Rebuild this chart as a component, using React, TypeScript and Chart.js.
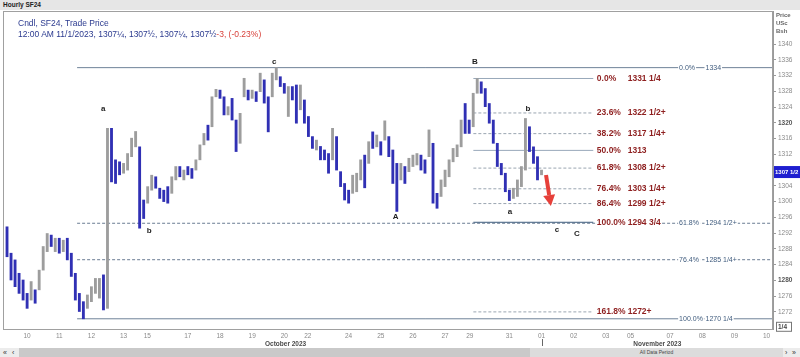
import React, { useEffect, useRef } from "react";
import { Chart, registerables } from "chart.js";

Chart.register(...registerables);

// ---------------- data ----------------
// hourly-ish bars (3h buckets), x measured in trading days from Oct 10
const barStartDay = -0.625;
const barStepDay = 0.125;

const barHighs = [
  1293.6, 1286.9, 1285.2, 1281.8, 1280.1, 1276.7, 1279.7, 1277.6, 1282.6, 1288.6,
  1291.9, 1291.5, 1290.7, 1290.7, 1290.2, 1290.7, 1286.9, 1281.8, 1276.7, 1274.6,
  1276.3, 1278.4, 1280.5, 1280.5, 1281.4, 1318.6, 1318.6, 1310.6, 1310.1, 1309.7,
  1312.2, 1316.1, 1317.8, 1313.9, 1300.4, 1303.8, 1306.7, 1306.3, 1303.4, 1302.9,
  1303.8, 1306.3, 1308.9, 1308.9, 1308.0, 1308.9, 1308.4, 1310.6, 1314.4, 1317.3,
  1319.4, 1326.6, 1328.5, 1328.3, 1326.6, 1324.1, 1326.2, 1320.7, 1322.4, 1331.3,
  1328.3, 1328.3, 1327.9, 1332.6, 1330.9, 1326.6, 1332.6, 1334.0, 1331.7, 1330.0,
  1329.2, 1329.2, 1329.6, 1329.6, 1325.8, 1321.6, 1316.5, 1315.6, 1314.0, 1313.1,
  1312.2, 1318.6, 1316.5, 1307.6, 1304.6, 1302.9, 1306.7, 1307.2, 1310.6, 1311.8,
  1315.2, 1317.7, 1316.9, 1315.2, 1320.5, 1316.5, 1313.1, 1309.7, 1309.7, 1308.9,
  1311.0, 1311.8, 1312.2, 1311.8, 1310.6, 1318.2, 1314.8, 1302.1, 1305.5, 1308.0,
  1310.6, 1313.5, 1314.4, 1320.7, 1324.9, 1320.7, 1327.5, 1331.25, 1330.4, 1328.7,
  1324.9, 1320.7, 1314.8, 1309.7, 1307.2, 1302.9, 1303.4, 1305.5, 1308.9, 1321.1,
  1319.0, 1313.9, 1311.4, 1308.0,
];

const barLows = [
  1286.0, 1280.1, 1278.4, 1276.7, 1275.0, 1272.9, 1275.0, 1274.2, 1277.6, 1282.6,
  1287.3, 1288.6, 1287.3, 1286.9, 1287.3, 1285.2, 1281.0, 1275.0, 1272.1, 1270.25,
  1272.9, 1274.6, 1276.7, 1275.5, 1272.5, 1272.9, 1305.0, 1304.6, 1306.8, 1307.2,
  1308.0, 1311.4, 1313.9, 1293.25, 1295.7, 1299.6, 1302.9, 1303.4, 1300.8, 1300.0,
  1299.6, 1302.1, 1305.5, 1306.3, 1305.5, 1306.8, 1305.9, 1308.0, 1310.6, 1314.4,
  1315.6, 1319.0, 1326.6, 1326.2, 1322.0, 1322.0, 1320.7, 1312.7, 1314.8, 1326.6,
  1325.8, 1326.2, 1325.4, 1327.9, 1325.0, 1317.7, 1326.6, 1330.9, 1329.2, 1327.5,
  1321.6, 1325.8, 1319.9, 1323.3, 1319.9, 1316.5, 1313.5, 1313.1, 1310.6, 1310.6,
  1307.2, 1310.6, 1308.0, 1303.8, 1300.4, 1299.6, 1302.1, 1302.5, 1305.5, 1303.5,
  1309.7, 1313.5, 1313.9, 1311.8, 1315.6, 1311.4, 1304.6, 1297.5, 1305.5, 1304.6,
  1307.6, 1308.9, 1309.3, 1308.0, 1307.2, 1311.4, 1299.6, 1298.3, 1301.3, 1303.8,
  1306.3, 1310.1, 1311.4, 1313.9, 1317.3, 1317.3, 1319.0, 1327.5, 1327.5, 1324.1,
  1319.9, 1314.8, 1308.9, 1306.8, 1302.5, 1300.25, 1300.8, 1301.3, 1303.8, 1308.0,
  1312.7, 1309.7, 1305.5, 1306.8,
];

// u = up bar, d = down bar
const barDirections =
  "dddddduduu" + "udududdddd" + "uuuududddu" + "uuudduuddd" + "duududduuu" +
  "duuddudduu" + "dududduudd" + "uddudddudd" + "dudddduuud" + "udududddud" +
  "uuuddudduu" + "uuuudduudd" + "dddddduuuu" + "dddu";

const yTickValues = [1272, 1276, 1280, 1284, 1288, 1292, 1296, 1300, 1304, 1308, 1312, 1316, 1320, 1324, 1328, 1332, 1336, 1340];
const xTickDays = [0, 1, 2, 3, 3.74, 5, 6, 7, 8, 8.73, 10, 11, 12, 13, 13.77, 15, 16, 17, 18, 18.77, 20, 21, 22, 23];
const xTickLabels = ["10", "11", "12", "13", "15", "17", "18", "19", "20", "22", "24", "25", "26", "27", "29", "31", "01", "02", "03", "05", "07", "08", "09", "10"];
const monthLabels = ["October 2023", "November 2023"];
const monthLabelDays = [8.04, 19.6];

// big retracement (low 1270 1/4 -> high 1334)
const longFibStartDay = 1.555;
const longFibEndDay = 23.2;
const longFibLevels = [1334, 1294.5, 1285.25, 1270.25];
const longFibPcts = ["0.0%", "61.8%", "76.4%", "100.0%"];
const longFibTexts = ["1334", "1294 1/2+", "1285 1/4+", "1270 1/4"];
const longFibPctDay = 20.28;
const longFibTextDay = 21.1;

// small retracement (B 1331 1/4 -> A 1294 3/4)
const shortFibStartDay = 13.88;
const shortFibEndDay = 17.61;
const shortFibLevels = [1331.25, 1322.5, 1317.25, 1313, 1308.5, 1303.25, 1299.5, 1294.75, 1272];
const shortFibPcts = ["0.0%", "23.6%", "38.2%", "50.0%", "61.8%", "76.4%", "86.4%", "100.0%", "161.8%"];
const shortFibTexts = ["1331 1/4", "1322 1/2+", "1317 1/4+", "1313", "1308 1/2+", "1303 1/4+", "1299 1/2+", "1294 3/4", "1272+"];
const shortFibPctDay = 17.72;
const shortFibTextDay = 18.68;

const waveLabels = ["a", "b", "c", "A", "B", "a", "b", "c", "C"];
const waveDays = [2.37, 3.8, 7.69, 11.46, 13.93, 15.02, 15.58, 16.48, 17.1];
const waveValues = [1323.5, 1292.5, 1335.4, 1296.1, 1335.4, 1297.4, 1323.5, 1292.8, 1291.8];

const arrowStartDay = 16.14;
const arrowStartValue = 1306.75;
const arrowEndDay = 16.29;
const arrowEndValue = 1298.9;

const lastPrice = 1307.5;
const lastPriceText = "1307 1/2";
const lastBarDay = 16;

// ---------------- styles ----------------
const BLUE = "#3030b4";
const GRAY = "#9d9d9d";
const FONT = '"Liberation Sans", Arial, sans-serif';

const annotationPlugin = {
  id: "fibAnnotations",
  beforeDraw(chart: any) {
    const { ctx } = chart;
    ctx.save();
    ctx.fillStyle = "#ffffff";
    ctx.fillRect(0, 0, chart.width, chart.height);
    ctx.restore();
  },
  afterDatasetsDraw(chart: any) {
    const { ctx, chartArea: a } = chart;
    const xs = chart.scales.x;
    const ys = chart.scales.y;

    const tag = (text: string, x: number, y: number, color: string, font: string, bg: boolean, align: CanvasTextAlign = "left") => {
      ctx.font = font;
      const w = ctx.measureText(text).width;
      const left = align === "center" ? x - w / 2 : x;
      if (bg) {
        ctx.fillStyle = "#ffffff";
        ctx.fillRect(left - 1, y - 5, w + 2, 10);
      }
      ctx.fillStyle = color;
      ctx.textAlign = "left";
      ctx.textBaseline = "middle";
      ctx.fillText(text, left, y);
    };

    ctx.save();
    // frame
    ctx.strokeStyle = "#a0a0a0";
    ctx.lineWidth = 1;
    ctx.strokeRect(a.left + 0.5, a.top + 0.5, a.right - a.left - 1, a.bottom - a.top);

    // long fib labels
    longFibLevels.forEach((lvl, i) => {
      const py = ys.getPixelForValue(lvl);
      tag(longFibPcts[i], xs.getPixelForValue(longFibPctDay), py, "#3f5b7d", `7px ${FONT}`, true);
      tag(longFibTexts[i], xs.getPixelForValue(longFibTextDay), py, "#3f5b7d", `7px ${FONT}`, true);
    });

    // short fib labels
    shortFibLevels.forEach((lvl, i) => {
      const py = ys.getPixelForValue(lvl);
      tag(shortFibPcts[i], xs.getPixelForValue(shortFibPctDay), py, "#8e1f1f", `bold 8.5px ${FONT}`, true);
      tag(shortFibTexts[i], xs.getPixelForValue(shortFibTextDay), py, "#8e1f1f", `bold 8.5px ${FONT}`, true);
    });

    // wave labels
    waveLabels.forEach((t, i) => {
      tag(t, xs.getPixelForValue(waveDays[i]), ys.getPixelForValue(waveValues[i]), "#1e1e1e", `bold 8px ${FONT}`, false, "center");
    });

    // red arrow
    const x1 = xs.getPixelForValue(arrowStartDay);
    const y1 = ys.getPixelForValue(arrowStartValue);
    const x2 = xs.getPixelForValue(arrowEndDay);
    const y2 = ys.getPixelForValue(arrowEndValue);
    const ang = Math.atan2(y2 - y1, x2 - x1);
    const headLen = 11;
    const headW = 6;
    const bx = x2 - headLen * Math.cos(ang);
    const by = y2 - headLen * Math.sin(ang);
    ctx.strokeStyle = "#e6403a";
    ctx.fillStyle = "#e6403a";
    ctx.lineWidth = 4;
    ctx.beginPath();
    ctx.moveTo(x1, y1);
    ctx.lineTo(bx, by);
    ctx.stroke();
    ctx.beginPath();
    ctx.moveTo(x2, y2);
    ctx.lineTo(bx + headW * Math.sin(ang), by - headW * Math.cos(ang));
    ctx.lineTo(bx - headW * Math.sin(ang), by + headW * Math.cos(ang));
    ctx.closePath();
    ctx.fill();

    // month labels
    monthLabels.forEach((m, i) => {
      tag(m, xs.getPixelForValue(monthLabelDays[i]), a.bottom + 15, "#4a4a4a", `bold 6.5px ${FONT}`, false, "center");
    });

    // current bar marker under the axis
    const mx = Math.round(xs.getPixelForValue(lastBarDay)) + 0.5;
    ctx.strokeStyle = "#666";
    ctx.lineWidth = 1;
    ctx.beginPath();
    ctx.moveTo(mx, a.bottom + 10);
    ctx.lineTo(mx, a.bottom + 17);
    ctx.stroke();

    // last price box on the axis
    const lp = ys.getPixelForValue(lastPrice);
    ctx.fillStyle = "#1f1fd0";
    ctx.fillRect(a.right + 1, lp - 6, chart.width - a.right - 1, 12);
    tag(lastPriceText, a.right + 2, lp, "#ffffff", `bold 6px ${FONT}`, false);

    // 1270 1/4 box on the axis
    const bp = ys.getPixelForValue(longFibLevels[3]) + 8;
    ctx.fillStyle = "#ffffff";
    ctx.fillRect(a.right + 3, bp - 4.5, 15, 9);
    ctx.strokeStyle = "#777";
    ctx.strokeRect(a.right + 3.5, bp - 4.5, 15, 9);
    tag("1/4", a.right + 5, bp, "#444", `bold 6.5px ${FONT}`, false);
    ctx.restore();
  },
};

export default function App() {
  const canvasRef = useRef<HTMLCanvasElement | null>(null);

  useEffect(() => {
    const canvas = canvasRef.current;
    if (!canvas) return;
    Chart.defaults.font.family = FONT;

    const barData = barLows.map((lo, i) => ({ x: barStartDay + i * barStepDay, y: [lo, barHighs[i]] }));
    const barColors = barDirections.split("").map((d) => (d === "d" ? BLUE : GRAY));

    const lineSets: any[] = [];
    longFibLevels.forEach((lvl, i) => {
      const solid = longFibPcts[i] === "0.0%" || longFibPcts[i] === "100.0%";
      lineSets.push({
        type: "line",
        data: [{ x: longFibStartDay, y: lvl }, { x: longFibEndDay, y: lvl }],
        borderColor: solid ? "#6f8298" : "#6a7c93",
        borderWidth: 1,
        borderDash: solid ? [] : [3, 2],
        pointRadius: 0,
        order: 3,
      });
    });
    shortFibLevels.forEach((lvl, i) => {
      const p = shortFibPcts[i];
      const solid = p === "0.0%" || p === "50.0%" || p === "100.0%";
      lineSets.push({
        type: "line",
        data: [{ x: shortFibStartDay, y: lvl }, { x: shortFibEndDay, y: lvl }],
        borderColor: p === "100.0%" ? "#3d5b7c" : solid ? "#98a8ba" : "#9aa5b1",
        borderWidth: 1,
        borderDash: solid ? [] : [3, 2],
        pointRadius: 0,
        order: 2,
      });
    });

    const chart = new Chart(canvas, {
      type: "bar",
      data: {
        datasets: [
          {
            type: "bar",
            data: barData as any,
            backgroundColor: barColors,
            borderWidth: 0,
            barThickness: 2.2,
            order: 0,
          } as any,
          ...lineSets,
        ],
      },
      options: {
        animation: false,
        responsive: false,
        devicePixelRatio: 1,
        layout: { padding: { top: 11, left: 3, right: 0, bottom: 0 } },
        plugins: { legend: { display: false }, tooltip: { enabled: false } },
        scales: {
          x: {
            type: "linear",
            min: -0.75,
            max: 23.2,
            offset: false,
            grid: { display: false, drawTicks: false, offset: false },
            border: { display: false },
            afterBuildTicks: (axis: any) => {
              axis.ticks = xTickDays.map((v) => ({ value: v }));
            },
            afterFit: (axis: any) => {
              axis.height = 28;
            },
            ticks: {
              autoSkip: false,
              maxRotation: 0,
              padding: 3,
              color: "#8a8a8a",
              font: { size: 6.5 },
              callback: (v: any) => {
                const idx = xTickDays.indexOf(Number(v));
                return idx >= 0 ? xTickLabels[idx] : "";
              },
            },
          },
          y: {
            type: "linear",
            position: "right",
            min: 1267.66,
            max: 1348.38,
            grid: { drawOnChartArea: false, tickLength: 3, color: "#9a9a9a" },
            border: { display: true, color: "#9a9a9a" },
            afterBuildTicks: (axis: any) => {
              axis.ticks = yTickValues.map((v) => ({ value: v }));
            },
            afterFit: (axis: any) => {
              axis.width = 27;
            },
            ticks: {
              padding: 2,
              color: (c: any) => (c.tick && c.tick.value % 40 === 0 ? "#555" : "#8a8a8a"),
              font: (c: any) => ({ size: 6.5, weight: c.tick && c.tick.value % 40 === 0 ? "bold" : "normal" }),
              callback: (v: any) => String(v),
            },
          },
        },
      } as any,
      plugins: [annotationPlugin],
    });

    return () => chart.destroy();
  }, []);

  const wrap: React.CSSProperties = {
    position: "absolute",
    left: 0,
    top: 0,
    width: 800,
    height: 357,
    overflow: "hidden",
    background: "#fff",
    fontFamily: FONT,
  };

  return (
    <div style={wrap}>
      <canvas ref={canvasRef} width={800} height={357} style={{ position: "absolute", left: 0, top: 0, width: 800, height: 357 }} />
      <div
        style={{
          position: "absolute",
          left: 0,
          top: 0,
          width: 800,
          height: 10,
          background: "#e6e6e6",
          fontSize: 6.5,
          fontWeight: "bold",
          lineHeight: "10px",
          paddingLeft: 3,
          boxSizing: "border-box",
          color: "#222",
        }}
      >
        Hourly SF24
      </div>
      <div style={{ position: "absolute", left: 18, top: 18, fontSize: 8.5, color: "#2b3a8f", lineHeight: "11px", whiteSpace: "nowrap" }}>
        <div>Cndl, SF24, Trade Price</div>
        <div>
          12:00 AM 11/1/2023, 1307¼, 1307½, 1307¼, 1307½<span style={{ color: "#d8413a" }}>-3, (-0.23%)</span>
        </div>
      </div>
      <div style={{ position: "absolute", left: 776, top: 11, fontSize: 6, fontWeight: "bold", color: "#666", lineHeight: "8px" }}>
        <div>Price</div>
        <div>USc</div>
        <div>Bsh</div>
      </div>
      <div style={{ position: "absolute", left: 0, top: 348, width: 800, height: 9, background: "#ececec", fontSize: 7, lineHeight: "9px", color: "#333" }}>
        <span style={{ position: "absolute", left: 3 }}>«</span>
        <span style={{ position: "absolute", left: 12 }}>‹</span>
        <div style={{ position: "absolute", left: 19, top: 0, width: 511, height: 9, background: "#c9c9c9" }} />
        <div
          style={{
            position: "absolute",
            left: 530,
            top: 0,
            width: 253,
            height: 9,
            background: "#dcdcdc",
            fontSize: 5,
            textAlign: "center",
            color: "#444",
          }}
        >
          All Data Period
        </div>
        <span style={{ position: "absolute", left: 785 }}>›</span>
        <span style={{ position: "absolute", left: 792 }}>»</span>
      </div>
    </div>
  );
}
